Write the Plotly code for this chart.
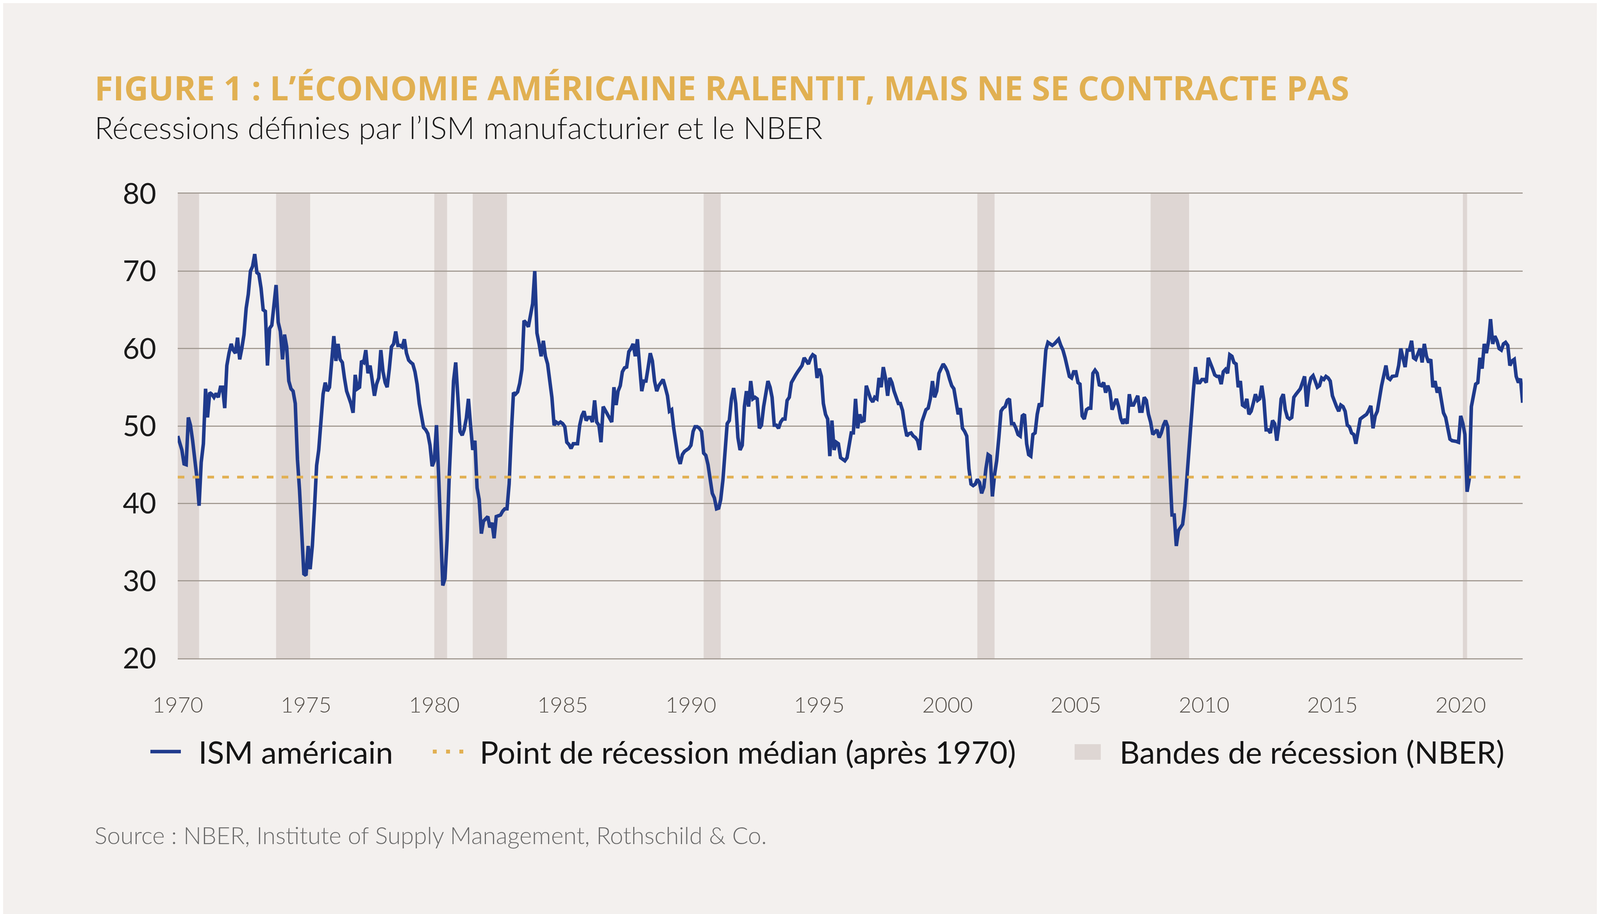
import pandas as pd
import plotly.graph_objects as go

# ISM manufacturier (valeurs mensuelles, janv. 1970 -> juin 2022)
ism_1970s = [
    48.7, 47.5, 46.9, 45.1, 45.0, 51.1, 50.1, 48.1, 45.7, 43.3, 39.7, 45.3,
    47.7, 54.8, 51.1, 54.3, 54.1, 53.7, 54.2, 53.7, 55.0, 55.0, 52.3, 57.8,
    59.4, 60.6, 59.8, 59.4, 61.4, 58.6, 60.0, 61.8, 65.2, 67.0, 70.0, 70.6,
    72.2, 69.8, 69.6, 67.8, 65.0, 64.8, 57.8, 62.6, 63.0, 65.8, 68.2, 63.4,
    62.2, 58.6, 61.8, 60.2, 55.8, 54.8, 54.5, 52.9, 45.7, 41.7, 36.5, 30.9,
    30.7, 34.5, 31.5, 34.5, 39.3, 44.9, 46.9, 51.3, 54.1, 55.6, 54.5, 55.0,
    58.2, 61.6, 58.4, 60.6, 58.6, 58.2, 56.2, 54.5, 53.7, 52.9, 51.7, 56.6,
    54.8, 55.0, 58.4, 58.2, 59.8, 56.8, 57.8, 55.5, 53.9, 55.4, 56.2, 59.8,
    57.0, 55.6, 55.0, 57.4, 60.2, 60.6, 62.2, 60.4, 60.4, 60.2, 61.2, 59.4,
    58.5, 58.2, 58.0, 57.0, 55.4, 52.9, 51.5, 49.8, 49.5, 49.0, 47.5, 44.8,
]
ism_1980s = [
    45.5, 50.1, 44.0, 37.0, 29.4, 30.3, 35.3, 43.7, 50.0, 55.8, 58.2, 53.7,
    49.3, 48.8, 49.5, 51.0, 53.5, 50.0, 46.9, 48.1, 42.0, 40.5, 36.1, 37.7,
    38.0, 38.3, 36.9, 37.5, 35.5, 38.3, 38.4, 38.5, 39.0, 39.3, 39.3, 42.5,
    49.0, 54.3, 54.1, 54.4, 55.5, 57.3, 63.6, 63.3, 62.8, 64.3, 65.8, 70.0,
    62.0, 60.6, 59.0, 61.0, 59.0, 58.0, 56.2, 53.7, 50.1, 50.5, 50.3, 50.5,
    50.3, 49.9, 47.9, 47.6, 47.1, 47.7, 47.7, 47.7, 50.1, 51.3, 51.9, 50.7,
    51.1, 51.1, 50.5, 53.3, 50.5, 50.1, 47.9, 52.5, 52.0, 51.5, 51.1, 50.5,
    55.0, 52.7, 54.5, 55.2, 57.0, 57.5, 57.6, 59.6, 60.0, 60.6, 59.0, 61.2,
    57.8, 54.5, 55.8, 55.8, 57.5, 59.4, 58.4, 55.8, 54.5, 55.2, 55.6, 56.0,
    55.0, 53.9, 51.9, 52.1, 49.7, 47.5, 46.0, 45.1, 46.3, 46.7, 46.9, 47.1,
]
ism_1990s = [
    47.5, 49.3, 49.9, 49.9, 49.7, 49.3, 46.5, 46.2, 45.0, 43.1, 41.3, 40.7,
    39.3, 39.4, 40.5, 43.0, 47.5, 50.3, 50.7, 53.5, 54.9, 52.9, 48.5, 46.9,
    47.5, 52.5, 54.5, 52.5, 55.8, 53.5, 53.7, 53.5, 49.7, 50.1, 52.5, 54.0,
    55.8, 55.0, 53.7, 50.1, 50.1, 49.7, 50.5, 50.9, 50.9, 53.3, 53.7, 55.6,
    56.2, 56.6, 57.0, 57.4, 57.8, 58.8, 58.4, 58.0, 58.8, 59.2, 59.0, 56.2,
    57.4, 56.4, 52.9, 51.5, 50.9, 46.1, 50.7, 46.9, 47.9, 47.7, 45.9, 45.7,
    45.5, 45.9, 47.3, 49.1, 49.1, 53.5, 49.7, 51.5, 50.6, 50.7, 55.2, 54.5,
    53.5, 53.1, 53.7, 53.5, 56.2, 55.0, 57.6, 56.2, 53.9, 56.2, 55.6, 54.5,
    53.7, 52.9, 52.9, 52.0, 50.1, 48.7, 49.0, 49.1, 48.7, 48.5, 48.1, 46.9,
    50.5, 51.3, 52.1, 52.3, 53.5, 55.8, 53.7, 54.5, 56.8, 57.4, 58.0, 57.6,
]
ism_2000s = [
    57.0, 56.0, 55.2, 54.8, 53.2, 51.5, 52.3, 49.7, 49.3, 48.7, 44.5, 42.5,
    42.3, 42.5, 43.1, 42.7, 41.3, 42.1, 44.5, 46.3, 46.1, 40.9, 43.7, 45.5,
    48.5, 51.9, 52.3, 52.5, 53.3, 53.5, 50.3, 50.3, 49.7, 48.9, 48.7, 51.3,
    51.5, 47.7, 46.3, 46.1, 48.9, 49.1, 51.5, 52.9, 52.5, 57.0, 59.8, 60.8,
    60.6, 60.4, 60.6, 60.9, 61.2, 60.4, 59.8, 58.8, 57.6, 56.4, 56.2, 57.0,
    57.0, 55.6, 55.4, 51.3, 50.9, 52.1, 52.3, 52.3, 56.8, 57.2, 56.8, 55.3,
    55.2, 55.6, 54.3, 55.2, 54.5, 52.1, 52.8, 53.5, 52.5, 51.0, 50.3, 50.9,
    50.3, 54.1, 52.7, 52.7, 53.3, 53.9, 51.9, 51.9, 53.7, 53.3, 51.5, 50.5,
    48.9, 49.3, 49.5, 48.5, 49.1, 50.1, 50.7, 49.9, 45.0, 38.5, 38.5, 34.5,
    36.5, 36.9, 37.3, 39.7, 43.7, 46.5, 51.5, 54.5, 57.6, 55.6, 55.6, 56.0,
]
ism_2010s = [
    56.0, 55.6, 58.8, 58.2, 57.4, 56.6, 56.4, 56.4, 55.4, 57.0, 57.3, 56.8,
    59.2, 59.0, 58.2, 58.0, 55.0, 55.8, 52.7, 52.5, 53.5, 51.5, 51.9, 52.9,
    54.1, 53.3, 53.5, 55.2, 53.3, 49.5, 49.5, 49.1, 50.7, 50.3, 48.1, 50.1,
    53.5, 54.1, 52.1, 51.1, 50.9, 51.1, 53.7, 54.1, 54.5, 54.8, 55.6, 56.4,
    52.5, 55.2, 56.2, 56.5, 55.8, 55.0, 55.2, 56.2, 56.0, 56.4, 56.2, 55.8,
    53.9, 53.0, 52.5, 51.9, 52.7, 52.5, 51.9, 50.1, 49.9, 49.1, 48.9, 47.7,
    49.1, 50.9, 51.1, 51.3, 51.5, 52.0, 52.6, 49.7, 51.3, 51.9, 53.7, 55.2,
    56.5, 57.8, 56.2, 56.0, 56.4, 56.5, 56.5, 57.8, 60.0, 58.8, 57.6, 59.8,
    59.8, 61.0, 58.8, 58.6, 59.3, 60.0, 58.2, 60.6, 59.0, 58.2, 58.6, 55.0,
    55.8, 54.3, 55.0, 53.3, 51.7, 51.1, 49.5, 48.3, 48.1, 48.1, 48.0, 47.9,
]
ism_2020s = [
    51.3, 50.3, 48.9, 41.5, 43.1, 52.5, 54.1, 55.4, 55.6, 58.8, 57.4, 60.6,
    59.4, 61.0, 63.8, 60.6, 61.6, 61.0, 60.0, 59.8, 60.6, 60.8, 60.4, 57.8,
    58.4, 58.6, 56.4, 55.6, 56.1, 53.0,
]

ism = ism_1970s + ism_1980s + ism_1990s + ism_2000s + ism_2010s + ism_2020s
months = pd.date_range("1970-01-01", periods=len(ism), freq="MS")

# point de recession median (apres 1970)
median_recession = 43.4

# recessions NBER
recession_starts = ["1969-12-01", "1973-11-01", "1980-01-01", "1981-07-01",
                    "1990-07-01", "2001-03-01", "2007-12-01", "2020-02-01"]
recession_ends = ["1970-11-01", "1975-03-01", "1980-07-01", "1982-11-01",
                  "1991-03-01", "2001-11-01", "2009-06-01", "2020-04-01"]

tick_years = ["1970", "1975", "1980", "1985", "1990", "1995",
              "2000", "2005", "2010", "2015", "2020"]
y_ticks = [20, 30, 40, 50, 60, 70, 80]

legend_labels = ["ISM américain", "Point de récession médian (après 1970)",
                 "Bandes de récession (NBER)"]

title_text = "FIGURE 1 : L’ÉCONOMIE AMÉRICAINE RALENTIT, MAIS NE SE CONTRACTE PAS"
subtitle_text = "Récessions définies par l’ISM manufacturier et le NBER"
source_text = "Source : NBER, Institute of Supply Management, Rothschild & Co."

NAVY = "#1F3A8C"
GOLD = "#E1B052"
BAND = "#DED6D3"
BG = "#F3F0EE"
GRID = "#A39B93"

W, H = 4224, 2341
PLOT_L, PLOT_R, PLOT_T, PLOT_B = 447, 3890, 488, 1678


def px(xp):
    return (xp - PLOT_L) / (PLOT_R - PLOT_L)


def py(yp):
    return (PLOT_B - yp) / (PLOT_B - PLOT_T)


fig = go.Figure()

fig.add_trace(go.Scatter(
    x=months, y=ism, mode="lines",
    line=dict(color=NAVY, width=9),
    name=legend_labels[0], showlegend=False, hoverinfo="skip",
))
fig.add_trace(go.Scatter(
    x=[months[0], months[-1]], y=[median_recession, median_recession],
    mode="lines", line=dict(color=GOLD, width=7, dash="17px,21px"),
    name=legend_labels[1], showlegend=False, hoverinfo="skip",
))

for s, e in zip(recession_starts, recession_ends):
    fig.add_shape(type="rect", xref="x", yref="y", x0=s, x1=e,
                  y0=y_ticks[0], y1=y_ticks[-1],
                  fillcolor=BAND, line_width=0, layer="below")

# legende dessinee a la main
LEG_Y = 1917
fig.add_shape(type="line", xref="paper", yref="paper",
              x0=px(377), x1=px(455), y0=py(LEG_Y), y1=py(LEG_Y),
              line=dict(color=NAVY, width=9))
fig.add_shape(type="line", xref="paper", yref="paper",
              x0=px(1100), x1=px(1178), y0=py(LEG_Y), y1=py(LEG_Y),
              line=dict(color=GOLD, width=10, dash="10px,24px"))
fig.add_shape(type="rect", xref="paper", yref="paper",
              x0=px(2743), x1=px(2810), y0=py(1898), y1=py(1938),
              fillcolor=BAND, line_width=0)

legend_x = [498, 1218, 2856]
for lab, lx in zip(legend_labels, legend_x):
    fig.add_annotation(x=px(lx), y=py(LEG_Y), xref="paper", yref="paper",
                       text=lab, showarrow=False, xanchor="left", yanchor="middle",
                       font=dict(family="Lato", size=80, color="#151515"))

fig.add_annotation(x=px(232), y=py(216), xref="paper", yref="paper",
                   text=title_text, showarrow=False, xanchor="left", yanchor="middle",
                   font=dict(family="Open Sans", size=86, color=GOLD, weight=700))
fig.add_annotation(x=px(232), y=py(317), xref="paper", yref="paper",
                   text=subtitle_text, showarrow=False, xanchor="left", yanchor="middle",
                   font=dict(family="Lato", size=79, color="#1A1A1A", weight=300))
fig.add_annotation(x=px(232), y=py(2130), xref="paper", yref="paper",
                   text=source_text, showarrow=False, xanchor="left", yanchor="middle",
                   font=dict(family="Lato", size=61, color="#6A6A6A", weight=300))

fig.update_layout(
    width=W, height=H, autosize=False,
    paper_bgcolor=BG, plot_bgcolor=BG,
    margin=dict(l=PLOT_L, r=W - PLOT_R, t=PLOT_T, b=H - PLOT_B, pad=0),
    showlegend=False,
)
fig.update_xaxes(
    type="date", range=[months[0], months[-1]],
    tickvals=[f"{y}-01-01" for y in tick_years], ticktext=tick_years,
    showgrid=False, zeroline=False,
    showline=True, mirror=True, linecolor=GRID, linewidth=3,
    ticks="", ticklabelstandoff=69,
    tickfont=dict(family="Lato", size=56, color="#55504A", weight=300),
)
fig.update_yaxes(
    range=[y_ticks[0], y_ticks[-1]], tickvals=y_ticks,
    showgrid=True, gridcolor=GRID, gridwidth=3,
    zeroline=False, showline=False, ticks="",
    ticklabelstandoff=54,
    tickfont=dict(family="Lato", size=74, color="#1A1A1A"),
)

fig.write_html("out.html")
